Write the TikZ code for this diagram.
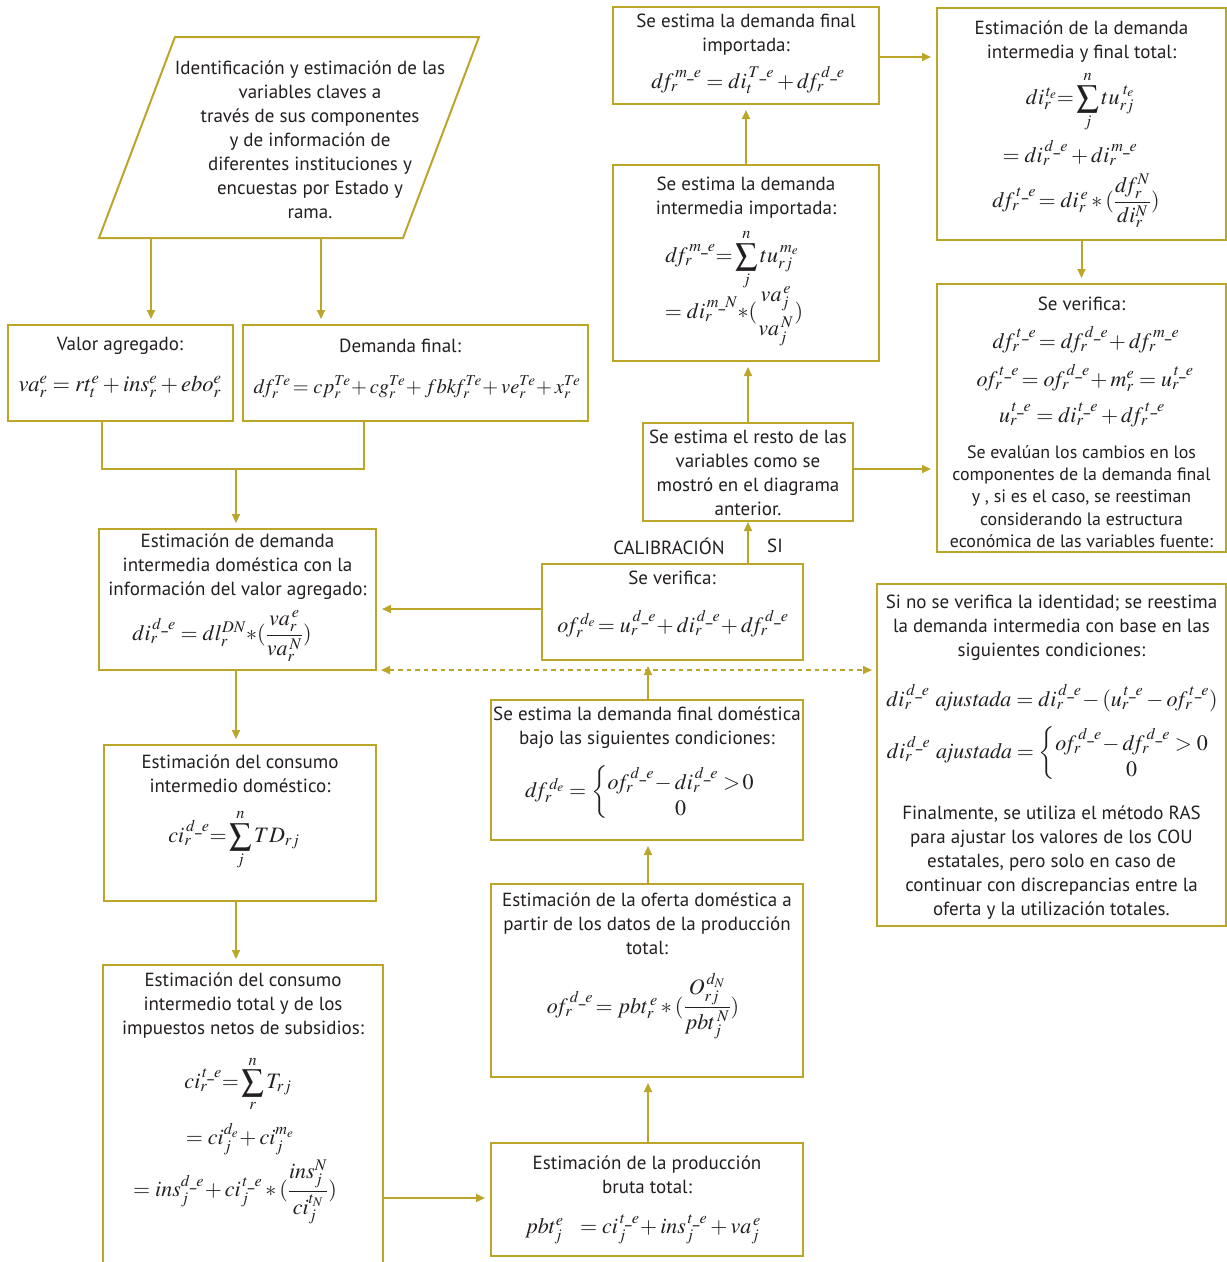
\documentclass[tikz,border=0pt]{standalone}
\usepackage{amsmath}
\usepackage{mathptmx}
\usepackage{fontspec}
\setmainfont{PT Sans}
\usetikzlibrary{arrows.meta}
\definecolor{gold}{RGB}{188,166,42}
\definecolor{ink}{RGB}{35,31,32}
\newcommand{\usc}{\text{\_}}
\newcommand{\dF}{d\!f}
\newcommand{\oF}{o\!f}
\begin{document}
\begin{tikzpicture}[x=1pt,y=-1pt,
  box/.style={draw=gold,line width=2pt,inner sep=0pt},
  txt/.style={font=\fontsize{19}{24}\selectfont,align=center,inner sep=0pt,text=ink},
  stxt/.style={font=\fontsize{17.9}{22.2}\selectfont,align=center,inner sep=0pt,text=ink},
  fm/.style={font=\fontsize{22}{26}\selectfont,inner sep=0pt,text=ink},
  arr/.style={draw=gold,line width=2pt,-{Triangle[length=9pt,width=8pt]},shorten >=5pt},
  ln/.style={draw=gold,line width=2pt}]
\useasboundingbox (0,0) rectangle (1227,1262);
\clip (0,0) rectangle (1227,1262);

% parallelogram
\draw[ln] (175,37) -- (479,37) -- (403,238) -- (99,238) -- cycle;
\node[txt] (ptext) at (310,140) {Identificación y estimación de las\\variables claves a\\través de sus componentes\\y de información de\\diferentes instituciones y\\encuestas por Estado y\\rama.};
\coordinate (pa) at (151,238);
\coordinate (pb) at (321,238);

% boxes
\node[box,minimum width=225,minimum height=96] (va) at (120.5,373) {};
\node[box,minimum width=345,minimum height=96] (dfin) at (415.5,373) {};
\node[box,minimum width=277,minimum height=141] (did) at (237.5,599.5) {};
\node[box,minimum width=272,minimum height=156] (cid) at (240,823) {};
\node[box,minimum width=280,minimum height=325] (cit) at (243,1127.5) {};
\node[box,minimum width=312,minimum height=113] (pbt) at (647,1199.5) {};
\node[box,minimum width=312,minimum height=193] (ofd) at (647,980.5) {};
\node[box,minimum width=312,minimum height=140] (dfd) at (647,770) {};
\node[box,minimum width=261,minimum height=96] (ver) at (672.5,612) {};
\node[box,minimum width=210,minimum height=98] (resto) at (748,472) {};
\node[box,minimum width=266,minimum height=196] (dim) at (746,263) {};
\node[box,minimum width=266,minimum height=97] (dfm) at (746,55.5) {};
\node[box,minimum width=289,minimum height=232] (dit) at (1081.5,124) {};
\node[box,minimum width=289,minimum height=268] (ver2) at (1081.5,418) {};
\node[box,minimum width=349,minimum height=342] (sino) at (1051.5,755) {};

% texts
\node[txt] at (120,346) {Valor agregado:};
\node[fm,font=\fontsize{22.5}{26}\selectfont] at (120,387) {$va_r^e = rt_t^e + ins_r^e + ebo_r^e$};
\node[txt] at (400,346) {Demanda final:};
\node[fm,font=\fontsize{20.5}{24}\selectfont] at (417,387) {$\dF_r^{Te}\!= cp_r^{Te}\!+ cg_r^{Te}\!+ fbk\!f_r^{Te}\!+ ve_r^{Te}\!+ x_r^{Te}$};

\node[txt] at (237.5,567) {Estimación de demanda\\intermedia doméstica con la\\información del valor agregado:};
\node[fm] at (222,636) {$di_r^{\,d\usc e} = dl_r^{DN}{\ast}(\dfrac{va_r^{\,e}}{va_r^{\,N}})$};

\node[txt] at (240,774) {Estimación del consumo\\intermedio doméstico:};
\node[fm] at (234,840) {$ci_r^{\,d\usc e}{=}\displaystyle\sum_j^n TD_{rj}$};

\node[txt] at (243,1006) {Estimación del consumo\\intermedio total y de los\\impuestos netos de subsidios:};
\node[fm] at (238,1084) {$ci_r^{\,t\usc e}{=}\displaystyle\sum_r^n T_{rj}$};
\node[fm] at (240,1139) {$=ci_j^{d_e}\!+ ci_j^{m_e}$};
\node[fm] at (235,1192) {$= ins_j^{d\usc e}\!+ ci_j^{\,t\usc e}\ast(\dfrac{ins_j^N}{ci_j^{t_N}})$};

\node[txt] at (647,1175) {Estimación de la producción\\bruta total:};
\node[fm] at (643,1229) {$pbt_j^e\ \ = ci_j^{\,t\usc e}\!+ ins_j^{\,t\usc e} + va_j^{\,e}$};

\node[txt] at (647,924) {Estimación de la oferta doméstica a\\partir de los datos de la producción\\total:};
\node[fm] at (643,1006) {$\oF_r^{\,d\usc e}\!= pbt_r^{\,e}\ast(\dfrac{O_{rj}^{\,d_N}}{pbt_j^{\,N}})$};

\node[txt] at (647,728) {Se estima la demanda final doméstica\\bajo las siguientes condiciones:};
\node[fm] at (640,792) {$\dF_r^{\,d_e} = \left\{\begin{array}{@{}c@{}}\oF_r^{\,d\usc e}\!- di_r^{\,d\usc e} >\!0\\ 0\\[-6pt]\end{array}\right.$};

\node[txt] at (672,578) {Se verifica:};
\node[fm] at (673,624) {$\oF_r^{\,d_e}\!= u_r^{\,d\usc e}\!+ di_r^{\,d\usc e}\!+ \dF_r^{\,d\usc e}$};

\node[txt] (cal) at (669,546) {CALIBRACIÓN};
\node[txt] (si) at (775,546) {SI};

\node[txt] at (748,473) {Se estima el resto de las\\variables como se\\mostró en el diagrama\\anterior.};

\node[txt] at (746,198) {Se estima la demanda\\intermedia importada:};
\node[fm] at (732,260) {$\dF_r^{\,m\usc e}{=}\displaystyle\sum_j^n tu_{rj}^{\,m_e}$};
\node[fm] at (734,316) {$=di_r^{\,m\usc N}{\ast}(\genfrac{}{}{0pt}{0}{va_j^{\,e}}{va_j^{\,N}})$};

\node[txt] at (746,35) {Se estima la demanda final\\importada:};
\node[fm] at (748,80) {$\dF_r^{\,m\usc e} = di_t^{\,T\usc e} + \dF_r^{\,d\usc e}$};

\node[txt] at (1081.5,42) {Estimación de la demanda\\intermedia y final total:};
\node[fm] at (1080,102) {$di_r^{\,t_e}{=}\displaystyle\sum_j^n tu_{rj}^{\;t_e}$};
\node[fm] at (1070,153) {$= di_r^{\,d\usc e} + di_r^{\,m\usc e}$};
\node[fm] at (1076,201) {$\dF_r^{\,t\usc e}\!= di_r^{\,e}\ast(\dfrac{\dF_r^N}{di_r^N})$};

\node[txt] at (1081.5,304) {Se verifica:};
\node[fm] at (1086,340) {$\dF_r^{\,t\usc e}\!= \dF_r^{\,d\usc e}\!+ \dF_r^{\,m\usc e}$};
\node[fm] at (1085,378) {$\oF_r^{\,t\usc e}\!= \oF_r^{\,d\usc e}\!+ m_r^e = u_r^{\,t\usc e}$};
\node[fm] at (1082,415) {$u_r^{\,t\usc e} = di_r^{\,t\usc e} + \dF_r^{\,t\usc e}$};
\node[stxt] at (1081.5,496.5) {Se evalúan los cambios en los\\componentes de la demanda final\\y , si es el caso, se reestiman\\considerando la estructura\\económica de las variables fuente:};

\node[txt] at (1051.5,628) {Si no se verifica la identidad; se reestima\\la demanda intermedia con base en las\\siguientes condiciones:};
\node[fm] at (1052,698) {$di_r^{\,d\usc e}\ \mathit{ajustada} = di_r^{\,d\usc e}\!- (u_r^{\,t\usc e} - \oF_r^{\,t\usc e})$};
\node[fm] at (1048,753) {$di_r^{\,d\usc e}\ \mathit{ajustada} = \left\{\begin{array}{@{}c@{}}\oF_r^{\,d\usc e}\!- \dF_r^{\,d\usc e} > 0\\ 0\\[-6pt]\end{array}\right.$};
\node[txt] at (1051.5,863) {Finalmente, se utiliza el método RAS\\para ajustar los valores de los COU\\estatales, pero solo en caso de\\continuar con discrepancias entre la\\oferta y la utilización totales.};

% connectors
\draw[arr] (pa) -- (pa |- va.north);
\draw[arr] (pb) -- (pb |- dfin.north);
\coordinate (m1) at (102,469);
\coordinate (m2) at (364,469);
\coordinate (m) at (236,469);
\draw[ln] (m1 |- va.south) -- (m1) -- (m2) -- (m2 |- dfin.south);
\draw[arr] (m) -- (m |- did.north);
\draw[arr] (m |- did.south) -- (m |- cid.north);
\draw[arr] (m |- cid.south) -- (m |- cit.north);
\coordinate (c1) at (0,1198);
\draw[arr] (c1 -| cit.east) -- (c1 -| pbt.west);
\coordinate (x648) at (648,0);
\draw[arr] (x648 |- pbt.north) -- (x648 |- ofd.south);
\draw[arr] (x648 |- ofd.north) -- (x648 |- dfd.south);
\draw[arr] (x648 |- dfd.north) -- (x648 |- ver.south);
\coordinate (c2) at (0,609);
\draw[arr] (c2 -| ver.west) -- (c2 -| did.east);
\coordinate (c3) at (0,670);
\draw[draw=gold,line width=2pt,dash pattern=on 4.5pt off 4pt,{Triangle[length=9pt,width=8pt]}-{Triangle[length=9pt,width=8pt]},shorten >=4pt,shorten <=4pt] (c3 -| did.east) -- (c3 -| sino.west);
\draw[arr,shorten >=0pt] (ver.north -| resto.south) -- (resto.south);
\draw[arr] (resto.north) -- (resto.north |- dim.south);
\draw[arr] (dim.north) -- (dfm.south);
\coordinate (c4) at (0,57);
\draw[arr] (c4 -| dfm.east) -- (c4 -| dit.west);
\draw[arr] (dit.south) -- (ver2.north);
\coordinate (c5) at (0,469);
\draw[arr] (c5 -| resto.east) -- (c5 -| ver2.west);
\end{tikzpicture}
\end{document}
